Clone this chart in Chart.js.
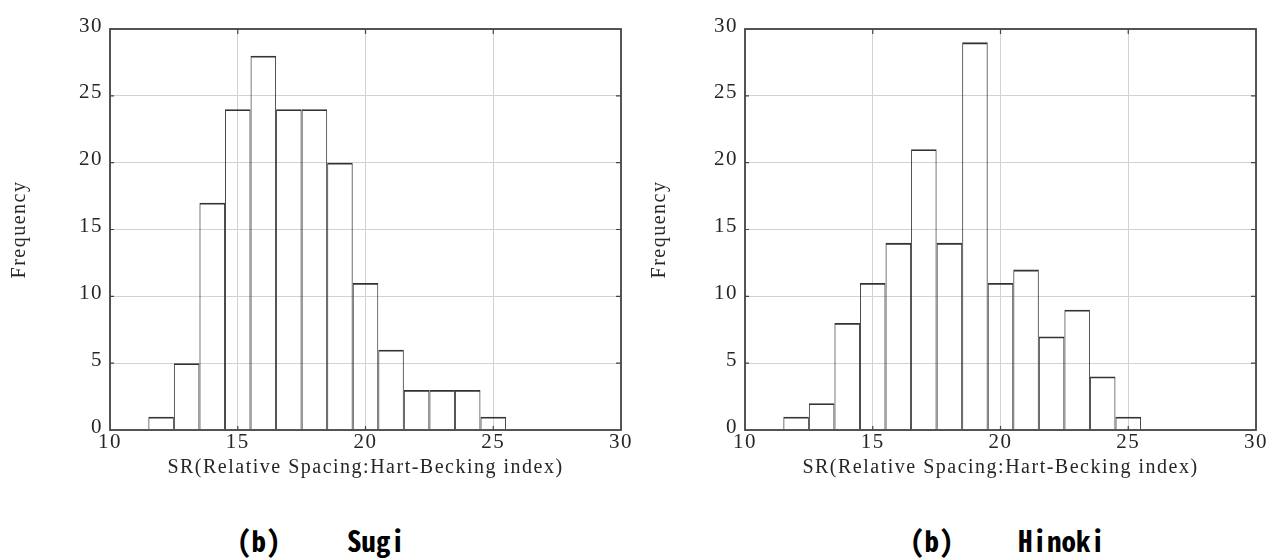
<!DOCTYPE html>
<html>
<head>
<meta charset="utf-8">
<script src="https://cdn.jsdelivr.net/npm/chart.js@4/dist/chart.umd.min.js"></script>
<style>
  html, body { margin: 0; padding: 0; background: #fff; width: 1274px; height: 558px; overflow: hidden; }
  .panel { position: absolute; top: 0; width: 637px; height: 490px; }
  .cap {
    position: absolute;
    font-family: "Noto Sans Mono CJK JP", "Noto Sans CJK JP", "DejaVu Sans Mono", monospace;
    font-weight: bold; font-size: 29px; line-height: 29px; color: #000; white-space: pre;
  }
</style>
</head>
<body>
<div class="panel" style="left:0"><canvas id="sugi"></canvas></div>
<div class="panel" style="left:637px"><canvas id="hinoki"></canvas></div>
<div class="cap" style="left:237px;top:525px">(b)</div>
<div class="cap" style="left:347px;top:525px">Sugi</div>
<div class="cap" style="left:910px;top:525px">(b)</div>
<div class="cap" style="left:1018px;top:525px">Hinoki</div>

<script>
// SR class centres (bin width 1)
const srBins = [12, 13, 14, 15, 16, 17, 18, 19, 20, 21, 22, 23, 24, 25];
// Frequencies per SR class
const sugiFreq   = [1, 5, 17, 24, 28, 24, 24, 20, 11, 6, 3, 3, 3, 1];
const hinokiFreq = [1, 2, 8, 11, 14, 21, 14, 29, 11, 12, 7, 9, 4, 1];
// Axis tick values
const xTickValues = [10, 15, 20, 25, 30];
const yTickValues = [0, 5, 10, 15, 20, 25, 30];
const xTitle = 'SR(Relative Spacing:Hart-Becking index)';
const yTitle = 'Frequency';

const serif = '"Liberation Serif", "Times New Roman", serif';
const textColor = '#262626';
const gridColor = '#d2d2d2';

// Closed frame round the plot area with short inward tick marks
const framePlugin = {
  id: 'frame',
  beforeDraw(chart) { chart.ctx.letterSpacing = '1.5px'; },
  afterDraw(chart) {
    const { ctx, chartArea: { left, right, top, bottom }, scales: { x, y } } = chart;
    ctx.save();
    ctx.strokeStyle = '#444';
    ctx.lineWidth = 1.8;
    ctx.strokeRect(left, top, right - left, bottom - top);
    ctx.lineWidth = 1.2;
    ctx.beginPath();
    x.ticks.forEach(t => {
      const px = x.getPixelForValue(t.value);
      if (px > left + 1 && px < right - 1) {
        ctx.moveTo(px, top); ctx.lineTo(px, top + 5);
        ctx.moveTo(px, bottom); ctx.lineTo(px, bottom - 4);
      }
    });
    y.ticks.forEach(t => {
      const py = y.getPixelForValue(t.value);
      if (py > top + 1 && py < bottom - 1) {
        ctx.moveTo(left, py); ctx.lineTo(left + 4, py);
        ctx.moveTo(right, py); ctx.lineTo(right - 5, py);
      }
    });
    ctx.stroke();
    ctx.restore();
  }
};

function makeHistogram(id, freq, plotLeft, plotRight, yTitleX) {
  const canvasW = 637, canvasH = 490, plotTop = 29, plotBottom = 430;
  const titleFont = { family: serif, size: 20 };
  const tickFont = { family: serif, size: 21 };
  return new Chart(document.getElementById(id), {
    type: 'bar',
    data: {
      datasets: [{
        data: srBins.map((b, i) => ({ x: b, y: freq[i] })),
        backgroundColor: 'rgba(0,0,0,0)',
        borderColor: '#333',
        borderWidth: { top: 1.8, left: 0.9, right: 0.9, bottom: 0 },
        borderSkipped: 'start',
        inflateAmount: 0,
        barPercentage: 1,
        categoryPercentage: 1
      }]
    },
    options: {
      responsive: true,
      maintainAspectRatio: false,
      animation: false,
      layout: { padding: { left: 0, right: canvasW - plotRight, top: plotTop, bottom: 0 } },
      plugins: { legend: { display: false }, tooltip: { enabled: false } },
      scales: {
        x: {
          type: 'linear',
          min: 10, max: 30,
          offset: false,
          afterBuildTicks: s => { s.ticks = xTickValues.map(v => ({ value: v })); },
          afterFit: s => { s.height = canvasH - plotBottom; },
          grid: { color: gridColor, lineWidth: 1, drawTicks: false, offset: false },
          border: { display: false },
          ticks: { color: textColor, font: tickFont, padding: 0, maxRotation: 0 },
          title: {
            display: true, text: xTitle, color: textColor,
            font: titleFont, padding: { top: 0, bottom: 10 }
          }
        },
        y: {
          min: 0, max: 30,
          afterBuildTicks: s => { s.ticks = yTickValues.map(v => ({ value: v })); },
          afterFit: s => { s.width = plotLeft; },
          grid: { color: gridColor, lineWidth: 1, drawTicks: false },
          border: { display: false },
          ticks: { color: textColor, font: tickFont, padding: 7, labelOffset: -3 },
          title: {
            display: true, text: yTitle, color: textColor,
            font: titleFont, padding: { top: yTitleX - 12, bottom: 0 }
          }
        }
      }
    },
    plugins: [framePlugin]
  });
}

makeHistogram('sugi', sugiFreq, 110, 621, 20);
makeHistogram('hinoki', hinokiFreq, 108, 619, 23);
</script>
</body>
</html>
